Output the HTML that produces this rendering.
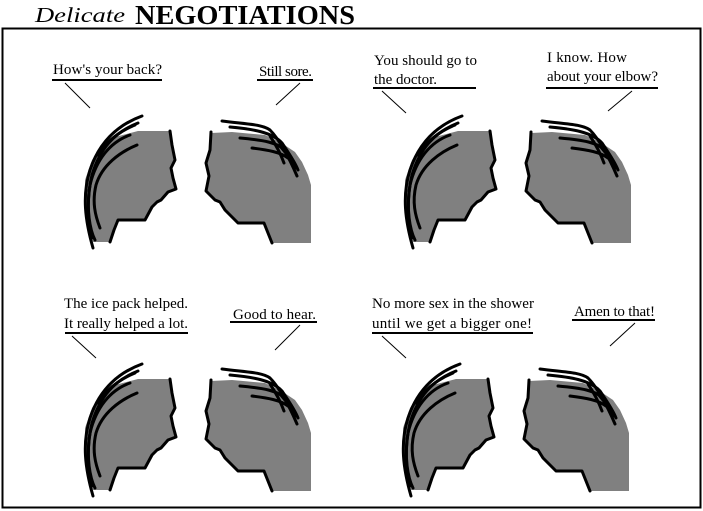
<!DOCTYPE html>
<html><head><meta charset="utf-8"><style>
html,body{margin:0;padding:0;background:#fff;width:703px;height:511px;overflow:hidden}
svg text{font-family:"Liberation Serif",serif;font-size:15px;fill:#000}
</style></head><body>
<svg width="703" height="511" viewBox="0 0 703 511" xmlns="http://www.w3.org/2000/svg">
<defs>
<g id="pair" fill="none" stroke="#000" stroke-width="3" stroke-linecap="round" stroke-linejoin="round">
  <polygon fill="#808080" stroke="none" points="98,21 130,21 132,35 135,50 131,58 133,68 136,79 128,82 121,90 117,92 112,97 105,110 78,110 74,120 70,132 53,132 50,120 45,90 45,70 52,50 60,38 75,27"/>
  <polyline points="130,21 132,35 135,50 131,58 133,68 136,79 128,82 121,90 117,92 112,97 105,110 78,110 74,120 70,132"/>
  <path d="M102,6 C80,14 60,30 50,60 C42,85 45,110 53,138"/>
  <path d="M98,13 C75,22 60,38 52,65 C46,90 48,115 52,128"/>
  <path d="M90,25 C70,32 56,50 50,75 C46,100 50,120 55,130"/>
  <path d="M97,35 C80,42 62,55 56,75 C52,92 55,105 60,118"/>
  <path d="M95,15 C78,22 66,32 58,45"/>
  <polygon fill="#808080" stroke="none" points="171,23 192,22 225,25 240,32 255,42 262,52 268,65 271,75 271,133 232,133 224,113 198,113 185,100 180,92 175,90 166,81 169,66 166,53 170,40"/>
  <polyline points="171,22 170,40 166,53 169,66 166,81 175,90 180,92 185,100 198,113 224,113 232,133"/>
  <path d="M182,11 C205,14 222,14 230,20 C238,28 248,45 257,66"/>
  <path d="M190,17 C212,19 232,22 242,33 C248,42 255,52 258,60"/>
  <path d="M200,28 C222,30 238,32 247,42 C252,48 255,55 256,58"/>
  <path d="M212,38 C228,40 240,42 248,48"/>
  <path d="M230,26 C236,35 240,42 244,53"/>
  <path d="M240,36 C245,42 250,48 253,52"/>
</g>
</defs>
<text x="35" y="22" style="font-size:21px;font-style:italic;font-weight:normal;font-family:'Liberation Serif',serif" textLength="90" lengthAdjust="spacingAndGlyphs">Delicate</text>
<text x="135" y="24" style="font-size:27px;font-weight:bold;font-family:'Liberation Serif',serif" textLength="220" lengthAdjust="spacingAndGlyphs">NEGOTIATIONS</text>
<rect x="2.5" y="28.5" width="698" height="479" fill="none" stroke="#000" stroke-width="2"/>
<use href="#pair" x="40" y="110"/>
<use href="#pair" x="360" y="110"/>
<use href="#pair" x="40" y="358"/>
<use href="#pair" x="358" y="358"/>
<g stroke="#000" fill="none">
<line x1="52" y1="80" x2="162" y2="80" stroke-width="2"/><line x1="65" y1="83" x2="90" y2="108"/>
<line x1="257" y1="80" x2="313" y2="80" stroke-width="2"/><line x1="300" y1="83" x2="276" y2="105"/>
<line x1="373" y1="88" x2="476" y2="88" stroke-width="2"/><line x1="382" y1="91" x2="406" y2="113"/>
<line x1="546" y1="88" x2="658" y2="88" stroke-width="2"/><line x1="632" y1="91" x2="608" y2="111"/>
<line x1="65" y1="333" x2="188" y2="333" stroke-width="2"/><line x1="72" y1="336" x2="96" y2="358"/>
<line x1="230" y1="322" x2="317" y2="322" stroke-width="2"/><line x1="300" y1="325" x2="275" y2="350"/>
<line x1="372" y1="333" x2="533" y2="333" stroke-width="2"/><line x1="382" y1="336" x2="406" y2="358"/>
<line x1="572" y1="320" x2="655" y2="320" stroke-width="2"/><line x1="635" y1="323" x2="610" y2="346"/>
</g>
<text x="53" y="74" textLength="109">How's your back?</text>
<text x="259" y="76" textLength="53">Still sore.</text>
<text x="374" y="65" textLength="103">You should go to</text>
<text x="374" y="84" textLength="63">the doctor.</text>
<text x="547" y="62" textLength="80">I know. How</text>
<text x="547" y="81" textLength="111">about your elbow?</text>
<text x="64" y="308" textLength="124">The ice pack helped.</text>
<text x="64" y="328" textLength="124">It really helped a lot.</text>
<text x="233" y="319" textLength="83">Good to hear.</text>
<text x="372" y="308" textLength="162">No more sex in the shower</text>
<text x="372" y="328" textLength="160">until we get a bigger one!</text>
<text x="574" y="316" textLength="81">Amen to that!</text>
</svg>
</body></html>
